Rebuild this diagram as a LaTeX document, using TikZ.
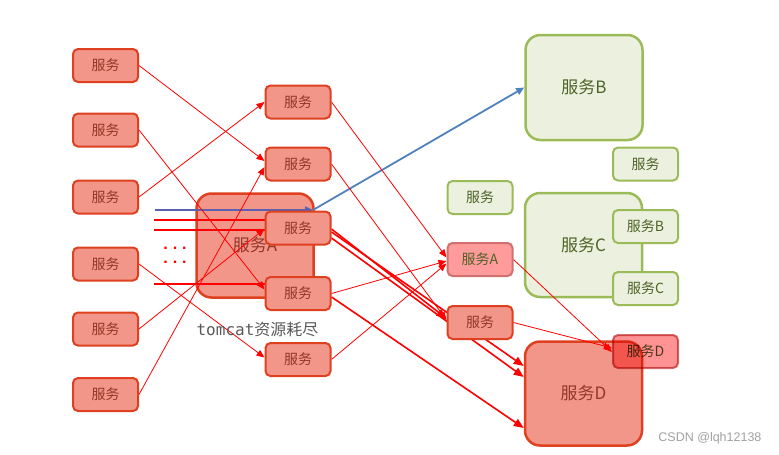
\documentclass[tikz,border=0pt]{standalone}
\usepackage{fontspec}
\setmainfont{Noto Sans CJK SC}
\newfontfamily\monof{DejaVu Sans Mono}
\newfontfamily\latf{Liberation Sans}
\usetikzlibrary{arrows.meta}
\pgfdeclarelayer{bg}
\pgfdeclarelayer{lines}
\pgfsetlayers{bg,lines,main}
\definecolor{rfill}{RGB}{242,150,138}
\definecolor{rborder}{RGB}{222,64,32}
\definecolor{rtext}{RGB}{148,54,40}
\definecolor{gfill}{RGB}{235,241,222}
\definecolor{gborder}{RGB}{155,187,89}
\definecolor{gtext}{RGB}{79,98,40}
\definecolor{pfill}{RGB}{255,155,155}
\definecolor{pborder}{RGB}{208,112,112}
\definecolor{bluel}{RGB}{79,129,189}
\definecolor{wm}{RGB}{160,160,160}
\definecolor{tgray}{RGB}{89,89,89}
\definecolor{lred}{RGB}{255,0,0}
\tikzset{
  box/.style={rounded corners=5pt, line width=2pt, minimum width=65pt, minimum height=33pt, inner sep=0pt, font=\fontsize{14}{14}\selectfont},
  redbox/.style={box, draw=rborder, fill=rfill, text=rtext},
  greenbox/.style={box, draw=gborder, fill=gfill, text=gtext},
  pinkbox/.style={box, draw=pborder, fill=pfill, text=gtext},
  bigbox/.style={rounded corners=15pt, line width=2.5pt, minimum width=117pt, minimum height=104pt, inner sep=0pt, font=\fontsize{17}{17}\selectfont},
  bigred/.style={bigbox, draw=rborder, fill=rfill, text=rtext},
  biggreen/.style={bigbox, draw=gborder, fill=gfill, text=gtext},
  thin/.style={draw=lred, line width=0.8pt, -{Triangle[length=8pt,width=6.5pt]}},
  thick/.style={draw=lred, line width=1.6pt, -{Triangle[length=10pt,width=8pt]}},
  hline/.style={draw=lred, line width=2pt},
  blueline/.style={draw=bluel, line width=1.8pt, -{Triangle[length=8pt,width=7pt]}},
}
\begin{document}
\begin{tikzpicture}[x=1pt,y=-1pt]
\useasboundingbox (0,0) rectangle (779,455);
\begin{pgfonlayer}{bg}
  \node[bigred] (bigA) at (255,245.5) {服务A};
  \node[biggreen, minimum height=105pt] (bigB) at (584,87.5) {服务B};
  \node[biggreen] (bigC) at (583.5,245) {服务C};
  \node[bigred] (bigD) at (583.5,393.5) {服务D};
\end{pgfonlayer}
% left column
\node[redbox] (L1) at (105.5,65.5) {服务};
\node[redbox] (L2) at (105.5,130) {服务};
\node[redbox] (L3) at (105.5,197) {服务};
\node[redbox] (L4) at (105.5,264) {服务};
\node[redbox] (L5) at (105.5,329) {服务};
\node[redbox] (L6) at (105.5,394.5) {服务};
% middle column
\node[redbox] (M1) at (298,102) {服务};
\node[redbox] (M2) at (298,164) {服务};
\node[redbox] (M3) at (298,228) {服务};
\node[redbox] (M4) at (298,293.5) {服务};
\node[redbox] (M5) at (298,359.5) {服务};
% right-middle column
\node[greenbox] (G1) at (480,197.5) {服务};
\node[pinkbox] (SA) at (480,259.5) {服务A};
\node[redbox] (SS) at (480,322.5) {服务};
% right column
\node[greenbox] (G2) at (645.5,164) {服务};
\node[greenbox] (SB) at (645.5,226.5) {服务B};
\node[greenbox] (SC) at (645.5,288.5) {服务C};
\begin{scope}[blend mode=multiply]
\node[pinkbox, fill=pfill!95!red] (SD) at (645.5,351.5) {服务D};
\end{scope}
% texts
\node[text=tgray, font=\fontsize{16}{16}\selectfont] (tc) at (257.5,329) {{\monof tomcat}资源耗尽};
\node[text=lred, font=\latf\bfseries\fontsize{16}{14}\selectfont, align=center, anchor=base, inner sep=0pt] (dots) at (175,263.5) {.\hspace{5pt}.\hspace{5pt}.\\.\hspace{5pt}.\hspace{5pt}.};
\node[text=wm, font=\latf\fontsize{12.5}{12.5}\selectfont, anchor=east] (wmk) at (765,438) {CSDN @lqh12138};
% free ends
\coordinate (b0) at (155,210);
\coordinate (b1) at (313,210);
\coordinate (h1) at (154,220);
\coordinate (h2) at (154,230);
\coordinate (h3) at (154,284);
\begin{pgfonlayer}{lines}
  % horizontal inputs into A
  \draw[hline] (h1) -- (M3.west |- h1);
  \draw[hline] (h2) -- (M3.west |- h2);
  \draw[hline] (h3) -- (M4.west |- h3);
  \draw[blueline, draw=bluel!75!violet] (b0) -- (b1);
  \draw[blueline] (b1) -- (bigB.west);
  % left -> middle
  \draw[thin] (L1.east) -- ([yshift=3pt]M2.west);
  \draw[thin] (L2.east) -- ([yshift=4pt]M4.west);
  \draw[thin] (L3.east) -- (M1.west);
  \draw[thin] (L4.east) -- ([yshift=2pt]M5.west);
  \draw[thin] (L5.east) -- ([yshift=-1pt]M3.west);
  \draw[thin] (L6.east) -- ([yshift=-3pt]M2.west);
  % middle -> right-middle
  \draw[thin] (M1.east) -- ([yshift=2pt]SA.west);
  \draw[thin] (M2.east) -- ([yshift=2.5pt]SS.west);
  \draw[thick] ([yshift=-1pt]M3.east) -- ([yshift=4pt]SS.west);
  \draw[thick] ([yshift=-4pt]M3.east) -- ([yshift=27.5pt]bigD.west);
  \draw[thick] ([yshift=-10pt]M3.east) -- ([yshift=16.5pt]bigD.west);
  \draw[thick] ([yshift=-3.5pt]M4.east) -- ([yshift=-34.5pt]bigD.west);
  \draw[thin] (M4.east) -- ([yshift=-1.5pt]SA.west);
  \draw[thin] (M5.east) -- ([yshift=-4pt]SA.west);
  % right-middle -> D
  \draw[thin] (SA.east) -- ([yshift=-0.5pt]SD.west);
  \draw[thin] (SS.east) -- ([yshift=3.5pt]SD.west);
\end{pgfonlayer}
\end{tikzpicture}
\end{document}
